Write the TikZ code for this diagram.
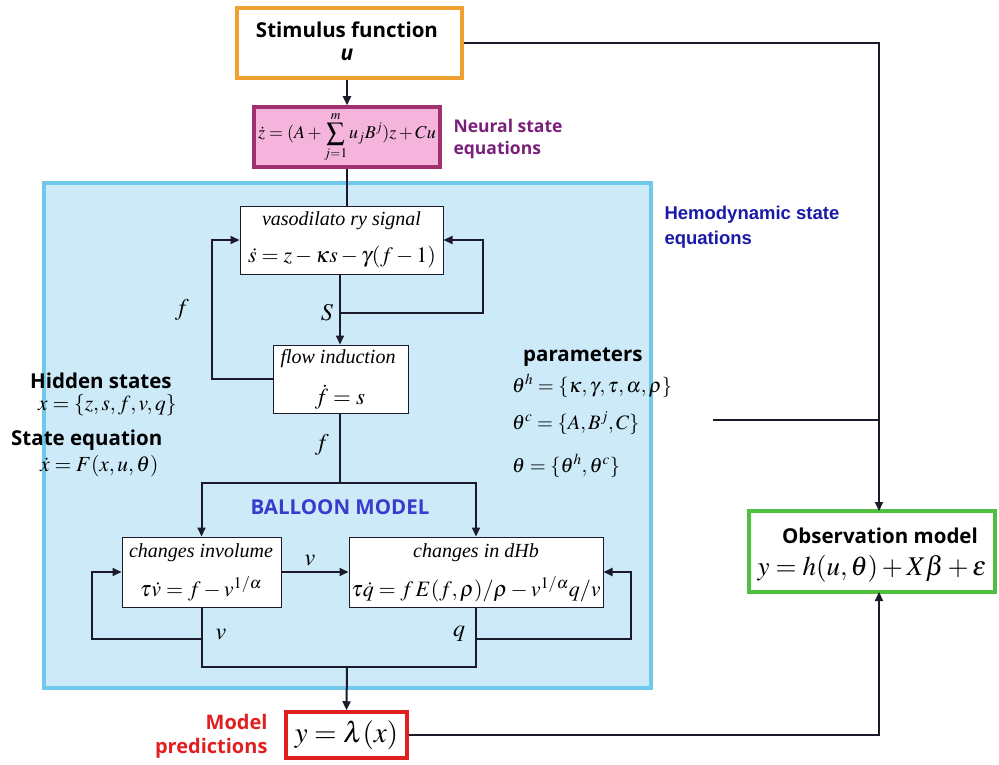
\documentclass[tikz,border=0pt]{standalone}
\usepackage{mathptmx}
\usepackage{fontspec}
\setmainfont{Liberation Serif}
\newfontfamily\osans{Open Sans}
\newfontfamily\lsans{Liberation Sans}
\usetikzlibrary{arrows.meta}
\definecolor{orangeB}{HTML}{F0A030}
\definecolor{pinkF}{HTML}{F4B4DC}
\definecolor{pinkB}{HTML}{A0306E}
\definecolor{purpleT}{HTML}{7B1F7B}
\definecolor{blueF}{HTML}{CDEAF8}
\definecolor{blueB}{HTML}{70C8EA}
\definecolor{hemoT}{HTML}{1A1AA8}
\definecolor{ballT}{HTML}{3A3ACC}
\definecolor{redB}{HTML}{E02020}
\definecolor{greenB}{HTML}{50C040}
\definecolor{lineC}{HTML}{1A1A2A}
\tikzset{
  x=1pt, y=-1pt,
  conn/.style={draw=lineC, line width=2pt},
  arr/.style={conn, -{Triangle[length=9pt,width=8pt]}},
  eqbox/.style={draw=lineC, line width=1pt, fill=white, inner sep=0pt},
  lbl/.style={font=\fontsize{24}{26}\selectfont},
  boxital/.style={inner sep=0pt, font=\fontsize{20}{22}\selectfont\itshape},
  boxeq/.style={inner sep=0pt, font=\fontsize{22}{24}\selectfont},
  sanslbl/.style={inner sep=0pt, font=\osans\bfseries\fontsize{20.5}{24}\selectfont},
  sideeq/.style={inner sep=0pt, anchor=west, font=\fontsize{21.5}{24}\selectfont}
}
\begin{document}
\begin{tikzpicture}
\useasboundingbox (0,0) rectangle (999,765);
% background blue box
\node[draw=blueB, fill=blueF, line width=3.5pt, minimum width=607pt, minimum height=505pt, inner sep=0pt] (hemo) at (347.5,435.5) {};
% stimulus
\node[draw=orangeB, fill=white, line width=3.5pt, minimum width=225pt, minimum height=70pt, inner sep=0pt] (stim) at (349.5,43) {};
\node[sanslbl] (stimT) at (347,30) {Stimulus function};
\node[inner sep=0pt, font=\osans\bfseries\itshape\fontsize{21}{24}\selectfont] (stimU) at (347,55) {u};
% neural
\node[draw=pinkB, fill=pinkF, line width=3.5pt, minimum width=186pt, minimum height=60pt, inner sep=0pt] (neural) at (347,137)
  {\fontsize{18}{20}\selectfont $\displaystyle \dot z=(A+\sum_{j=1}^{m}u_jB^j)z+Cu$};
\node[anchor=west, align=left, text=purpleT, font=\osans\bfseries\fontsize{17.5}{22.5}\selectfont] (neurlbl) at (450,139) {Neural state\\equations};
\node[anchor=west, align=left, text=hemoT, font=\lsans\bfseries\fontsize{18.5}{24.5}\selectfont] (hemolbl) at (661,227) {Hemodynamic state\\equations};
% vaso
\node[eqbox, minimum width=203pt, minimum height=68pt] (vaso) at (341.5,240) {};
\node[boxital] (vasoT) at (341.5,221) {vasodilato ry signal};
\node[boxeq] (vasoE) at (342,257) {$\dot s=z-\kappa s-\gamma(f-1)$};
% flow
\node[eqbox, minimum width=135pt, minimum height=68pt] (flow) at (340.5,379) {};
\node[boxital] (flowT) at (338,359) {flow induction};
\node[boxeq, font=\fontsize{23}{24}\selectfont] (flowE) at (340,397) {$\dot f=s$};
% volume
\node[eqbox, minimum width=159pt, minimum height=70pt] (vol) at (201.5,572) {};
\node[boxital] (volT) at (201,553) {changes involume};
\node[boxeq] (volE) at (201,589) {$\tau\dot v=f-v^{1/\alpha}$};
% dHb
\node[eqbox, minimum width=254pt, minimum height=70pt] (dhb) at (476,572) {};
\node[boxital] (dhbT) at (476,553) {changes in dHb};
\node[boxeq] (dhbE) at (476,589) {$\tau\dot q=f\,E(f,\rho)/\rho-v^{1/\alpha}q/v$};
% predictions
\node[draw=redB, fill=white, line width=3.5pt, minimum width=121pt, minimum height=46pt, inner sep=0pt] (pred) at (346.5,735)
  {\fontsize{29}{30}\selectfont $y=\lambda(x)$};
\node[anchor=east, align=right, text=redB, font=\osans\bfseries\fontsize{20}{24}\selectfont] (predlbl) at (271,736) {Model\\predictions};
% observation
\node[draw=greenB, fill=white, line width=3.5pt, minimum width=246pt, minimum height=81pt, inner sep=0pt] (obs) at (872,551.5) {};
\node[sanslbl] (obsT) at (880,536) {Observation model};
\node[inner sep=0pt, font=\fontsize{27}{29}\selectfont] (obsE) at (872,569) {$y=h(u,\theta)+X\beta+\varepsilon$};
% side texts
\node[sanslbl, anchor=west] (params) at (523,357) {parameters};
\node[sideeq, font=\fontsize{20.5}{23}\selectfont] (th) at (512,386) {$\theta^h=\{\kappa,\gamma,\tau,\alpha,\rho\}$};
\node[sideeq, font=\fontsize{20.5}{23}\selectfont] (tc) at (512,423) {$\theta^c=\{A,B^j,C\}$};
\node[sideeq, font=\fontsize{20.5}{23}\selectfont] (tt) at (512,466) {$\theta=\{\theta^h,\theta^c\}$};
\node[sanslbl, anchor=west] (hidden) at (30,381) {Hidden states};
\node[sideeq] (hx) at (38,405) {$x=\{z,s,f,v,q\}$};
\node[sanslbl, anchor=west] (steq) at (11,440) {State equation};
\node[sideeq] (sx) at (40,466) {$\dot x=F(x,u,\theta)$};
\node[sanslbl, text=ballT] (balloon) at (340,507) {BALLOON MODEL};
% labels on connectors
\node[lbl] (lf1) at (182,310) {$f$};
\node[lbl] (ls) at (327,313) {$S$};
\node[lbl] (lf2) at (322,445) {$f$};
\node[lbl] (lv1) at (310,560) {$v$};
\node[lbl] (lv2) at (221,634) {$v$};
\node[lbl] (lq) at (459,634) {$q$};
% coordinates
\coordinate (sj) at (340,313);
\coordinate (sr) at (483,313);
\coordinate (fl) at (212,379);
\coordinate (split) at (340,483);
\coordinate (vj) at (201.5,639);
\coordinate (vl) at (92,639);
\coordinate (qj) at (476,639);
\coordinate (qr) at (631,639);
\coordinate (bl) at (201.5,667);
\coordinate (br) at (476,667);
\coordinate (bm) at (347,667);
\coordinate (pl) at (713,420);
\coordinate (pr) at (879,420);
\coordinate (obsN) at (879,511);
\coordinate (obsS) at (879,592);
% connectors
\draw[arr] (stim.south -| neural.north) -- (neural.north);
\draw[conn] (neural.south) -- (neural.south |- vaso.north);
\draw[arr] (vaso.south -| sj) -- (flow.north -| sj);
\draw[arr] (sj) -- (sr) |- (vaso.east);
\draw[arr] (flow.west) -- (fl) |- (vaso.west);
\draw[conn] (flow.south -| split) -- (split);
\draw[arr] (split) -| (vol.north);
\draw[arr] (split) -| (dhb.north);
\draw[arr] (vol.east) -- (dhb.west);
\draw[conn] (vol.south) -- (bl) -- (br) -- (dhb.south);
\draw[arr] (vj) -- (vl) |- (vol.west);
\draw[arr] (qj) -- (qr) |- (dhb.east);
\draw[arr] (bm) -- (pred.north);
\draw[arr] (pred.east) -| (obsS);
\draw[arr] (stim.east) -| (obsN);
\draw[conn, line width=1.5pt] (pl) -- (pr);
\end{tikzpicture}
\end{document}
